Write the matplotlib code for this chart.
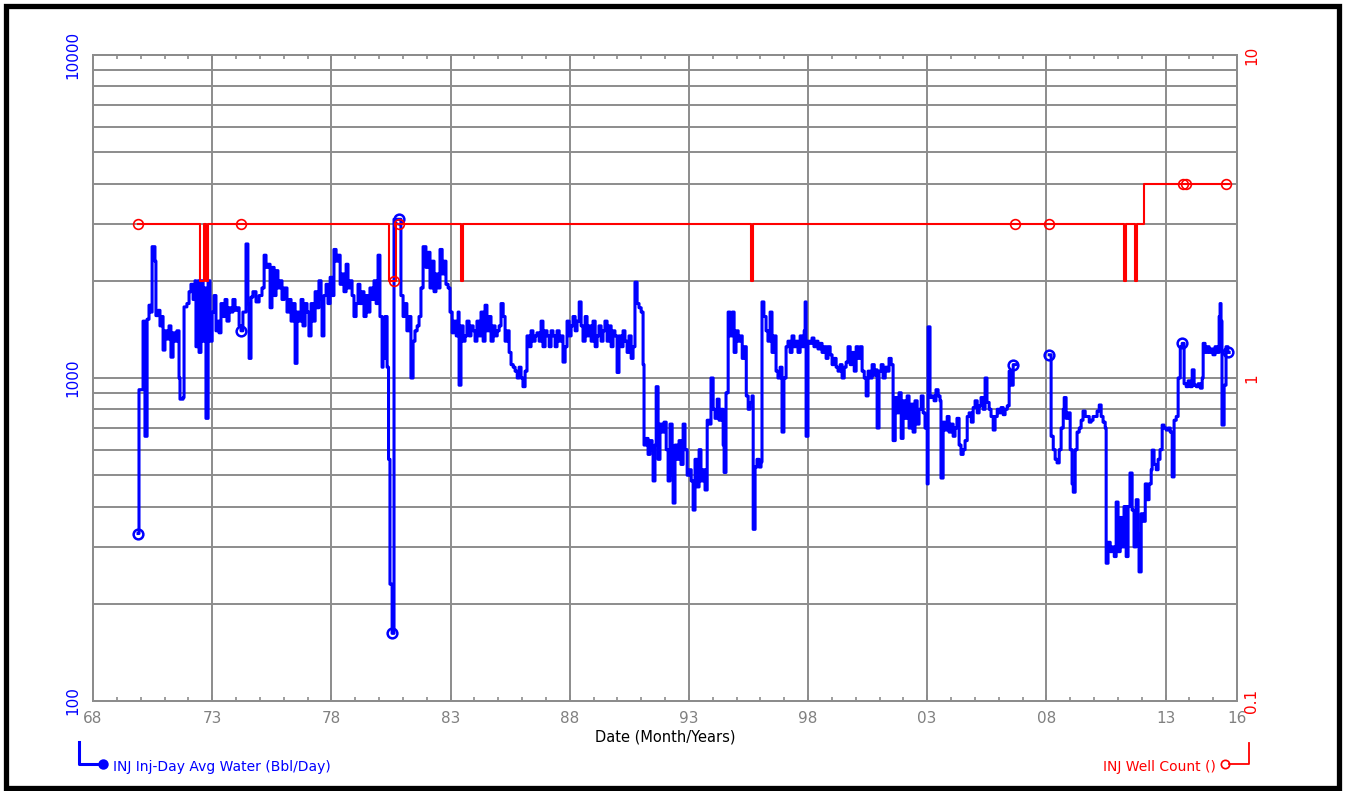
import numpy as np
import matplotlib
matplotlib.use('Agg')
import matplotlib.pyplot as plt
from matplotlib.ticker import FixedLocator, NullFormatter, LogLocator
from matplotlib.lines import Line2D
from matplotlib.patches import Rectangle

# INJ Inj-Day Avg Water (Bbl/Day) (decimal years)
inj_dates = [
    1969.89, 1969.93, 1970.01, 1970.10, 1970.18, 1970.27, 1970.35, 1970.43, 1970.48, 1970.60,
    1970.64, 1970.73, 1970.81, 1970.90, 1970.94, 1971.02, 1971.11, 1971.19, 1971.27, 1971.36,
    1971.44, 1971.52, 1971.61, 1971.65, 1971.78, 1971.82, 1971.94, 1972.03, 1972.11, 1972.20,
    1972.28, 1972.32, 1972.41, 1972.45, 1972.53, 1972.62, 1972.70, 1972.74, 1972.83, 1972.91,
    1973.00, 1973.08, 1973.16, 1973.25, 1973.29, 1973.37, 1973.46, 1973.54, 1973.62, 1973.71,
    1973.79, 1973.87, 1973.96, 1974.04, 1974.13, 1974.21, 1974.29, 1974.42, 1974.50, 1974.55,
    1974.63, 1974.71, 1974.84, 1974.97, 1975.09, 1975.18, 1975.26, 1975.34, 1975.43, 1975.51,
    1975.60, 1975.68, 1975.76, 1975.85, 1975.93, 1976.02, 1976.14, 1976.22, 1976.31, 1976.39,
    1976.48, 1976.56, 1976.64, 1976.73, 1976.81, 1976.90, 1976.98, 1977.06, 1977.15, 1977.23,
    1977.32, 1977.40, 1977.48, 1977.57, 1977.61, 1977.69, 1977.78, 1977.86, 1977.95, 1978.03,
    1978.11, 1978.20, 1978.28, 1978.37, 1978.45, 1978.53, 1978.62, 1978.70, 1978.78, 1978.87,
    1978.95, 1979.04, 1979.12, 1979.20, 1979.29, 1979.37, 1979.46, 1979.54, 1979.62, 1979.71,
    1979.79, 1979.88, 1979.96, 1980.04, 1980.13, 1980.17, 1980.25, 1980.34, 1980.40, 1980.46,
    1980.55, 1980.63, 1980.84, 1980.92, 1981.01, 1981.09, 1981.17, 1981.26, 1981.34, 1981.43,
    1981.51, 1981.60, 1981.68, 1981.76, 1981.85, 1981.97, 1982.06, 1982.14, 1982.23, 1982.31,
    1982.39, 1982.48, 1982.56, 1982.65, 1982.73, 1982.81, 1982.90, 1982.98, 1983.07, 1983.15,
    1983.24, 1983.32, 1983.36, 1983.44, 1983.53, 1983.61, 1983.69, 1983.78, 1983.86, 1983.95,
    1984.03, 1984.11, 1984.20, 1984.28, 1984.37, 1984.45, 1984.53, 1984.62, 1984.70, 1984.79,
    1984.87, 1984.96, 1985.04, 1985.12, 1985.21, 1985.29, 1985.38, 1985.46, 1985.54, 1985.63,
    1985.71, 1985.80, 1985.88, 1985.96, 1986.04, 1986.13, 1986.21, 1986.30, 1986.38, 1986.46,
    1986.55, 1986.63, 1986.72, 1986.80, 1986.88, 1986.97, 1987.05, 1987.14, 1987.22, 1987.30,
    1987.39, 1987.47, 1987.56, 1987.64, 1987.72, 1987.81, 1987.89, 1987.98, 1988.06, 1988.14,
    1988.23, 1988.31, 1988.40, 1988.48, 1988.56, 1988.65, 1988.73, 1988.81, 1988.90, 1988.98,
    1989.07, 1989.15, 1989.23, 1989.32, 1989.40, 1989.48, 1989.57, 1989.65, 1989.74, 1989.82,
    1989.90, 1989.99, 1990.07, 1990.16, 1990.24, 1990.32, 1990.41, 1990.49, 1990.58, 1990.66,
    1990.74, 1990.83, 1990.91, 1991.00, 1991.08, 1991.12, 1991.21, 1991.29, 1991.37, 1991.46,
    1991.50, 1991.58, 1991.63, 1991.71, 1991.79, 1991.88, 1991.96, 1992.05, 1992.13, 1992.21,
    1992.30, 1992.34, 1992.42, 1992.51, 1992.59, 1992.67, 1992.76, 1992.84, 1992.93, 1993.01,
    1993.10, 1993.18, 1993.26, 1993.35, 1993.43, 1993.51, 1993.60, 1993.68, 1993.77, 1993.85,
    1993.93, 1994.02, 1994.10, 1994.19, 1994.27, 1994.35, 1994.44, 1994.48, 1994.56, 1994.65,
    1994.73, 1994.82, 1994.90, 1994.98, 1995.07, 1995.15, 1995.24, 1995.32, 1995.41, 1995.49,
    1995.57, 1995.65, 1995.70, 1995.78, 1995.86, 1995.95, 1996.03, 1996.07, 1996.15, 1996.24,
    1996.32, 1996.41, 1996.49, 1996.57, 1996.66, 1996.74, 1996.83, 1996.91, 1996.99, 1997.08,
    1997.16, 1997.25, 1997.33, 1997.41, 1997.50, 1997.58, 1997.67, 1997.75, 1997.84, 1997.88,
    1997.92, 1998.00, 1998.09, 1998.17, 1998.25, 1998.34, 1998.42, 1998.51, 1998.59, 1998.67,
    1998.76, 1998.84, 1998.93, 1999.01, 1999.09, 1999.18, 1999.26, 1999.35, 1999.43, 1999.52,
    1999.60, 1999.68, 1999.77, 1999.85, 1999.94, 2000.02, 2000.10, 2000.19, 2000.27, 2000.36,
    2000.44, 2000.52, 2000.61, 2000.69, 2000.78, 2000.86, 2000.90, 2000.98, 2001.07, 2001.15,
    2001.24, 2001.32, 2001.40, 2001.49, 2001.57, 2001.66, 2001.74, 2001.82, 2001.91, 2001.99,
    2002.07, 2002.16, 2002.24, 2002.33, 2002.41, 2002.49, 2002.58, 2002.66, 2002.75, 2002.83,
    2002.91, 2003.00, 2003.04, 2003.12, 2003.21, 2003.29, 2003.37, 2003.46, 2003.54, 2003.58,
    2003.67, 2003.75, 2003.84, 2003.92, 2004.00, 2004.09, 2004.17, 2004.25, 2004.34, 2004.42,
    2004.51, 2004.59, 2004.68, 2004.76, 2004.85, 2004.93, 2005.01, 2005.10, 2005.18, 2005.26,
    2005.35, 2005.43, 2005.51, 2005.60, 2005.68, 2005.77, 2005.85, 2005.94, 2006.02, 2006.10,
    2006.19, 2006.27, 2006.36, 2006.44, 2006.53, 2006.61, 2006.69, 2006.73,
    2008.12, 2008.20, 2008.29, 2008.37, 2008.45, 2008.54, 2008.62, 2008.71, 2008.75, 2008.83,
    2008.92, 2009.00, 2009.08, 2009.13, 2009.21, 2009.29, 2009.38, 2009.46, 2009.54, 2009.63,
    2009.71, 2009.80, 2009.88, 2009.96, 2010.05, 2010.13, 2010.22, 2010.30, 2010.38, 2010.47,
    2010.51, 2010.59, 2010.68, 2010.76, 2010.85, 2010.93, 2011.01, 2011.10, 2011.18, 2011.26,
    2011.35, 2011.43, 2011.51, 2011.60, 2011.68, 2011.77, 2011.85, 2011.89, 2011.98, 2012.06,
    2012.15, 2012.23, 2012.31, 2012.40, 2012.44, 2012.52, 2012.61, 2012.69, 2012.77, 2012.86,
    2012.94, 2013.03, 2013.11, 2013.20, 2013.28, 2013.36, 2013.45, 2013.53, 2013.62, 2013.70,
    2013.78, 2013.87, 2013.95, 2014.03, 2014.12, 2014.20, 2014.29, 2014.37, 2014.46, 2014.54,
    2014.58, 2014.66, 2014.75, 2014.83, 2014.91, 2014.99, 2015.08, 2015.16, 2015.25, 2015.29,
    2015.33, 2015.37, 2015.46, 2015.54, 2015.62, 2015.67,
]
inj_water = [
    330, 920, 920, 1500, 660, 1520, 1680, 1600, 2550, 2300,
    1560, 1620, 1450, 1550, 1220, 1400, 1320, 1450, 1160, 1380,
    1300, 1400, 1000, 860, 870, 1660, 1700, 1850, 1950, 1750,
    2000, 1250, 2000, 1200, 2000, 1300, 1900, 750, 2000, 1300,
    1600, 1800, 1400, 1500, 1380, 1700, 1550, 1750, 1500, 1650,
    1600, 1750, 1620, 1650, 1450, 1400, 1600, 2600, 1700, 1150,
    1780, 1850, 1720, 1800, 1900, 2400, 2200, 2250, 1650, 2200,
    1800, 2150, 1900, 2000, 1750, 1900, 1600, 1750, 1500, 1700,
    1110, 1600, 1500, 1750, 1450, 1700, 1600, 1350, 1700, 1500,
    1850, 1650, 2000, 1750, 1350, 1800, 1950, 1700, 2050, 1800,
    2500, 2300, 2400, 1950, 2100, 1850, 2250, 1900, 2000, 1800,
    1550, 1700, 1950, 1700, 1850, 1550, 1800, 1600, 1900, 1750,
    2000, 1700, 2400, 1550, 1080, 1150, 1550, 1080, 560, 230,
    162, 3100, 3100, 1800, 1550, 1700, 1400, 1550, 1000, 1300,
    1400, 1450, 1550, 1900, 2550, 2200, 2450, 1900, 2300, 1850,
    2100, 1900, 2500, 2100, 2300, 1950, 1900, 1600, 1380, 1500,
    1350, 1600, 950, 1450, 1300, 1350, 1500, 1350, 1450, 1400,
    1300, 1500, 1350, 1600, 1300, 1680, 1400, 1550, 1300, 1450,
    1350, 1400, 1450, 1700, 1550, 1300, 1400, 1200, 1100, 1080,
    1050, 1000, 1080, 1000, 940, 1050, 1350, 1250, 1400, 1300,
    1350, 1380, 1300, 1500, 1250, 1400, 1350, 1250, 1400, 1350,
    1250, 1400, 1300, 1350, 1120, 1250, 1500, 1350, 1450, 1550,
    1400, 1500, 1720, 1450, 1300, 1550, 1350, 1450, 1300, 1500,
    1250, 1350, 1450, 1300, 1400, 1500, 1300, 1450, 1250, 1400,
    1350, 1040, 1350, 1250, 1400, 1300, 1200, 1350, 1150, 1250,
    1980, 1700, 1650, 1600, 1100, 620, 650, 580, 640, 600,
    480, 620, 940, 560, 720, 680, 730, 600, 480, 720,
    500, 410, 620, 560, 640, 540, 720, 600, 500, 520,
    480, 390, 560, 460, 600, 480, 520, 450, 740, 720,
    1000, 800, 750, 860, 740, 800, 620, 510, 900, 1600,
    1350, 1600, 1200, 1400, 1300, 1350, 1150, 1250, 880, 800,
    840, 880, 340, 530, 560, 530, 550, 1720, 1550, 1400,
    1300, 1600, 1200, 1350, 1050, 1000, 1080, 680, 1000, 1250,
    1300, 1200, 1350, 1250, 1300, 1200, 1350, 1250, 1400, 1720,
    660, 1300, 1280, 1330, 1250, 1300, 1230, 1280, 1200, 1250,
    1150, 1250, 1180, 1100, 1150, 1080, 1050, 1100, 1000, 1080,
    1120, 1250, 1100, 1200, 1050, 1250, 1150, 1250, 1050, 1000,
    880, 1050, 1000, 1100, 1020, 1060, 700, 1050, 1100, 1000,
    1080, 1050, 1150, 1100, 640, 870, 780, 900, 650, 850,
    750, 880, 700, 830, 680, 850, 720, 800, 880, 780,
    700, 470, 1440, 870, 880, 850, 920, 880, 850, 490,
    730, 690, 760, 680, 720, 660, 700, 750, 620, 580,
    600, 640, 760, 780, 730, 810, 850, 780, 820, 870,
    800, 1000, 840, 800, 760, 690, 760, 800, 780, 810,
    770, 800, 820, 1050, 950, 1100, 1100, np.nan,
    1180, 660, 600, 560, 546, 600, 700, 800, 870, 750,
    780, 600, 470, 443, 600, 680, 700, 740, 790, 760,
    760, 730, 740, 760, 760, 790, 825, 760, 730, 700,
    267, 310, 290, 300, 280, 413, 290, 370, 300, 400,
    280, 400, 508, 390, 300, 420, 330, 251, 380, 360,
    470, 420, 470, 520, 598, 540, 520, 560, 600, 715,
    700, 690, 700, 680, 494, 740, 760, 1000, 1250, 1280,
    960, 940, 980, 940, 1060, 950, 940, 960, 930, 1000,
    1280, 1200, 1250, 1200, 1230, 1180, 1250, 1200, 1550, 1700,
    1500, 715, 950, 1250, 1200, 1200,
]
inj_marks = [1969.89, 1974.21, 1980.55, 1980.84, 2006.61, 2008.12, 2013.70, 2015.62]

# INJ Well Count
well_dates = [1969.89, 1972.50, 1972.66, 1972.74, 1972.83, 1974.21, 1980.42, 1980.63,
              1980.72, 1980.84, 1983.42, 1983.51, 1995.60, 1995.68, 2006.69, 2008.12,
              2011.27, 2011.35, 2011.73, 2011.81, 2012.10, 2013.74, 2013.87, 2015.54, 2015.67]
well_count = [3, 2, 3, 2, 3, 3, 2, 2, 3, 3, 2, 3, 2, 3, 3, 3, 2, 3, 2, 3, 4, 4, 4, 4, 4]
well_marks = [1969.89, 1974.21, 1980.63, 1980.84, 2006.69, 2008.12, 2013.74, 2013.87, 2015.54]

year_ticks = [1968, 1973, 1978, 1983, 1988, 1993, 1998, 2003, 2008, 2013, 2016]
year_labels = ['68', '73', '78', '83', '88', '93', '98', '03', '08', '13', '16']
water_ticks = [100, 1000, 10000]
water_labels = ['100', '1000', '10000']
count_ticks = [0.1, 1, 10]
count_labels = ['0.1', '1', '10']

W, H = 1350, 791
gridc = '#8c8c8c'
blue = '#0000ff'
red = '#ff0000'


def fx(px):
    return px / W


def fy(py):
    return 1 - py / H


fig = plt.figure(figsize=(W / 100, H / 100), dpi=100)
ax = fig.add_axes([fx(93), fy(701), (1237 - 93) / W, (701 - 55) / H])

ax.set_xlim(1968, 2016)
ax.set_yscale('log')
ax.set_ylim(100, 10000)
ax.xaxis.set_major_locator(FixedLocator(year_ticks))
ax.set_xticklabels(year_labels)
ax.xaxis.set_minor_locator(FixedLocator(range(1968, 2017)))
ax.yaxis.set_major_locator(FixedLocator(water_ticks))
ax.set_yticklabels(water_labels)
ax.yaxis.set_minor_locator(LogLocator(base=10, subs=range(2, 10)))
ax.yaxis.set_minor_formatter(NullFormatter())

ax.set_axisbelow(True)
ax.xaxis.grid(True, which='major', color=gridc, lw=1.4)
ax.yaxis.grid(True, which='both', color=gridc, lw=1.4)

ax.tick_params(axis='x', which='both', direction='in', top=True, bottom=True,
               color=gridc, width=1.2, labelsize=11, labelcolor='#808080', pad=7)
ax.tick_params(axis='x', which='major', length=4)
ax.tick_params(axis='x', which='minor', length=3)
ax.tick_params(axis='y', which='both', length=0, labelsize=11, labelcolor=blue,
               labelrotation=90, pad=9)
for lbl in ax.get_yticklabels():
    lbl.set_va('center')

ax.set_xlabel('Date (Month/Years)', fontsize=10.5, color='black', labelpad=3)

blue_idx = [inj_dates.index(d) for d in inj_marks]
ax.plot(inj_dates, inj_water, color=blue, lw=2.2, drawstyle='steps-post',
        marker='o', markevery=blue_idx, ms=7, mfc='none', mec=blue, mew=1.8, zorder=3)

ax2 = ax.twinx()
ax2.set_yscale('log')
ax2.set_ylim(0.1, 10)
ax2.yaxis.set_major_locator(FixedLocator(count_ticks))
ax2.set_yticklabels(count_labels)
ax2.yaxis.set_minor_formatter(NullFormatter())
ax2.tick_params(axis='y', which='both', length=0, labelsize=11, labelcolor=red,
                labelrotation=90, pad=5)
for lbl in ax2.get_yticklabels():
    lbl.set_va('center')

red_idx = [well_dates.index(d) for d in well_marks]
ax2.plot(well_dates, well_count, color=red, lw=1.5, drawstyle='steps-post',
         marker='o', markevery=red_idx, ms=7, mfc='none', mec=red, mew=1.2, zorder=3)

for a in (ax, ax2):
    for s in a.spines.values():
        s.set_color(gridc)
        s.set_linewidth(1.4)

# legend keys at the bottom corners
fig.add_artist(Line2D([fx(79), fx(79), fx(101)], [fy(742), fy(764), fy(764)],
                      transform=fig.transFigure, color=blue, lw=2.2))
fig.add_artist(Line2D([fx(103)], [fy(764)], transform=fig.transFigure, marker='o',
                      ms=6, mfc=blue, mec=blue, mew=1.5, color=blue))
fig.text(fx(113), fy(767), 'INJ Inj-Day Avg Water (Bbl/Day)', color=blue,
         fontsize=10, ha='left', va='center')

fig.add_artist(Line2D([fx(1229), fx(1249), fx(1249)], [fy(764), fy(764), fy(743)],
                      transform=fig.transFigure, color=red, lw=1.3))
fig.add_artist(Line2D([fx(1225)], [fy(764)], transform=fig.transFigure, marker='o',
                      ms=6, mfc='none', mec=red, mew=1.2, color=red))
fig.text(fx(1216), fy(767), 'INJ Well Count ()', color=red,
         fontsize=10, ha='right', va='center')

fig.add_artist(Rectangle((fx(6), fy(788)), (1339 - 6) / W, (788 - 6) / H,
                         transform=fig.transFigure, fill=False, ec='black', lw=3.8))

fig.savefig('out.png', dpi=100)
